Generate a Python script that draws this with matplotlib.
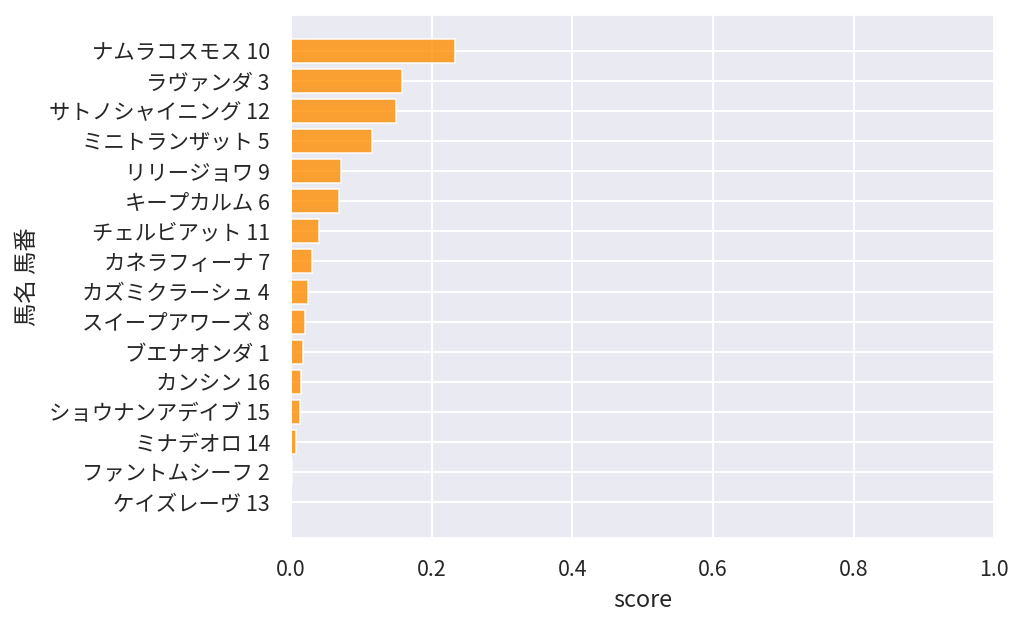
import matplotlib
matplotlib.use("Agg")
import matplotlib.pyplot as plt
import seaborn as sns

# horse name + number, sorted by score (top to bottom)
horse_labels = [
    "ナムラコスモス 10",
    "ラヴァンダ 3",
    "サトノシャイニング 12",
    "ミニトランザット 5",
    "リリージョワ 9",
    "キープカルム 6",
    "チェルビアット 11",
    "カネラフィーナ 7",
    "カズミクラーシュ 4",
    "スイープアワーズ 8",
    "ブエナオンダ 1",
    "カンシン 16",
    "ショウナンアデイブ 15",
    "ミナデオロ 14",
    "ファントムシーフ 2",
    "ケイズレーヴ 13",
]
scores = [
    0.233, 0.158, 0.150, 0.115, 0.072, 0.069, 0.040, 0.030,
    0.024, 0.020, 0.018, 0.015, 0.013, 0.0075, 0.002, 0.0004,
]
x_ticks = [0.0, 0.2, 0.4, 0.6, 0.8, 1.0]

sns.set_theme(style="darkgrid")
plt.rcParams['font.family'] = ['Noto Sans CJK JP', 'DejaVu Sans']
plt.rcParams['grid.linewidth'] = 1.5

fig, ax = plt.subplots(figsize=(10.24, 6.27), dpi=100)
fig.subplots_adjust(left=0.284, right=0.971, top=0.976, bottom=0.142)

pos = list(range(len(horse_labels)))
ax.barh(pos, scores, height=0.8, color='darkorange', alpha=0.8,
        edgecolor='white', linewidth=1.3)
ax.set_yticks(pos)
ax.set_yticklabels(horse_labels, fontsize=15.4)
ax.invert_yaxis()

ax.set_xlim(0, 1.0)
ax.set_xticks(x_ticks)
ax.set_xticklabels([f"{t:.1f}" for t in x_ticks], fontsize=15.4)
ax.tick_params(axis='y', pad=9)
ax.tick_params(axis='x', pad=9)
ax.set_xlabel("score", fontsize=16.8, labelpad=6)
ax.set_ylabel("馬名 馬番", fontsize=16.8, labelpad=7)

fig.savefig("out.png", dpi=100)
